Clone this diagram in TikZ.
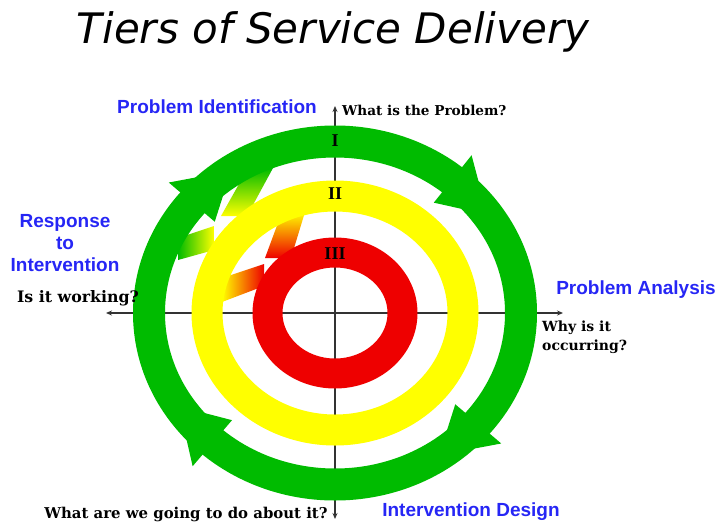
\documentclass[tikz,border=0pt]{standalone}
\usepackage{fontspec}
\setmainfont{DejaVu Serif}
\newfontfamily\stagefont{Liberation Sans}
\newfontfamily\titlefont{DejaVu Sans}
\newfontfamily\romanfont{Liberation Serif}
\usetikzlibrary{arrows.meta}

\definecolor{tiergreen}{RGB}{0,187,0}
\definecolor{tieryellow}{RGB}{255,255,0}
\definecolor{tierred}{RGB}{238,0,0}
\definecolor{stageblue}{RGB}{38,38,245}

\begin{document}
\begin{tikzpicture}[x=1pt,y=-1pt,
    stage/.style={text=stageblue,align=center,inner sep=0pt,
      font=\stagefont\bfseries\fontsize{19}{22}\selectfont},
    question/.style={inner sep=0pt,align=left,font=\bfseries\fontsize{14}{19}\selectfont},
    tier/.style={inner sep=0pt,font=\romanfont\bfseries\fontsize{18}{18}\selectfont},
    axis/.style={line width=1.2,black!80,{Stealth[length=6,width=5]}-{Stealth[length=6,width=5]}}]
    \useasboundingbox (0,0) rectangle (719,523);

    % centre and axis ends
    \coordinate (C) at (335,313);
    \coordinate (top) at (335,106);
    \coordinate (bot) at (335,519);
    \coordinate (lft) at (106,313);
    \coordinate (rgt) at (563,313);
    \draw[axis] (bot) -- (top);
    \draw[axis] (lft) -- (rgt);

    % spiral steps between the tiers
    \shade[top color=tiergreen,bottom color=tieryellow] (248,168) -- (273,168) -- (247,216) -- (221,216) -- cycle;
    \shade[left color=tiergreen,right color=tieryellow] (178,238) -- (214,226) -- (214,250) -- (178,260) -- cycle;
    \shade[top color=tieryellow,bottom color=tierred] (282,212) -- (305,212) -- (291,258) -- (265,258) -- cycle;
    \shade[left color=tieryellow,right color=tierred] (222,278) -- (264,264) -- (264,286) -- (222,302) -- cycle;

    % the three tiers
    \draw[tiergreen,line width=32] (C) ellipse [x radius=186, y radius=171.5];
    \draw[tieryellow,line width=31] (C) ellipse [x radius=128, y radius=117];
    \draw[tierred,line width=30] (C) ellipse [x radius=67.5, y radius=60.5];

    % arrow heads on the outer tier
    \foreach \a in {-140,-51,40,131}
      \fill[tiergreen,shift={(C)}] (\a:217 and 203) -- (\a+16:186 and 171.5) -- (\a:157 and 142) -- cycle;

    \node[tier] (t1) at (335,141) {I};
    \node[tier] (t2) at (335,194) {II};
    \node[tier] (t3) at (335,254) {III};

    \node[font=\titlefont\itshape\fontsize{42}{42}\selectfont] (title) at (333,32) {Tiers of Service Delivery};

    \node[stage] (ident) at (217,107) {Problem Identification};
    \node[stage] (anal) at (636,290) {Problem Analysis};
    \node[stage] (design) at (471,512) {Intervention Design};
    \node[stage] (resp) at (65,243) {Response\\to\\Intervention};

    \node[question,anchor=west,font=\bfseries\fontsize{13.6}{18}\selectfont] (qwhat) at (342,110) {What is the Problem?};
    \node[question,font=\bfseries\fontsize{15.8}{18}\selectfont] (qwork) at (78,298) {Is it working?};
    \node[question,anchor=west] (qwhy) at (542,337) {Why is it\\occurring?};
    \node[question,font=\bfseries\fontsize{14.9}{18}\selectfont] (qdo) at (186,514) {What are we going to do about it?};
\end{tikzpicture}
\end{document}
